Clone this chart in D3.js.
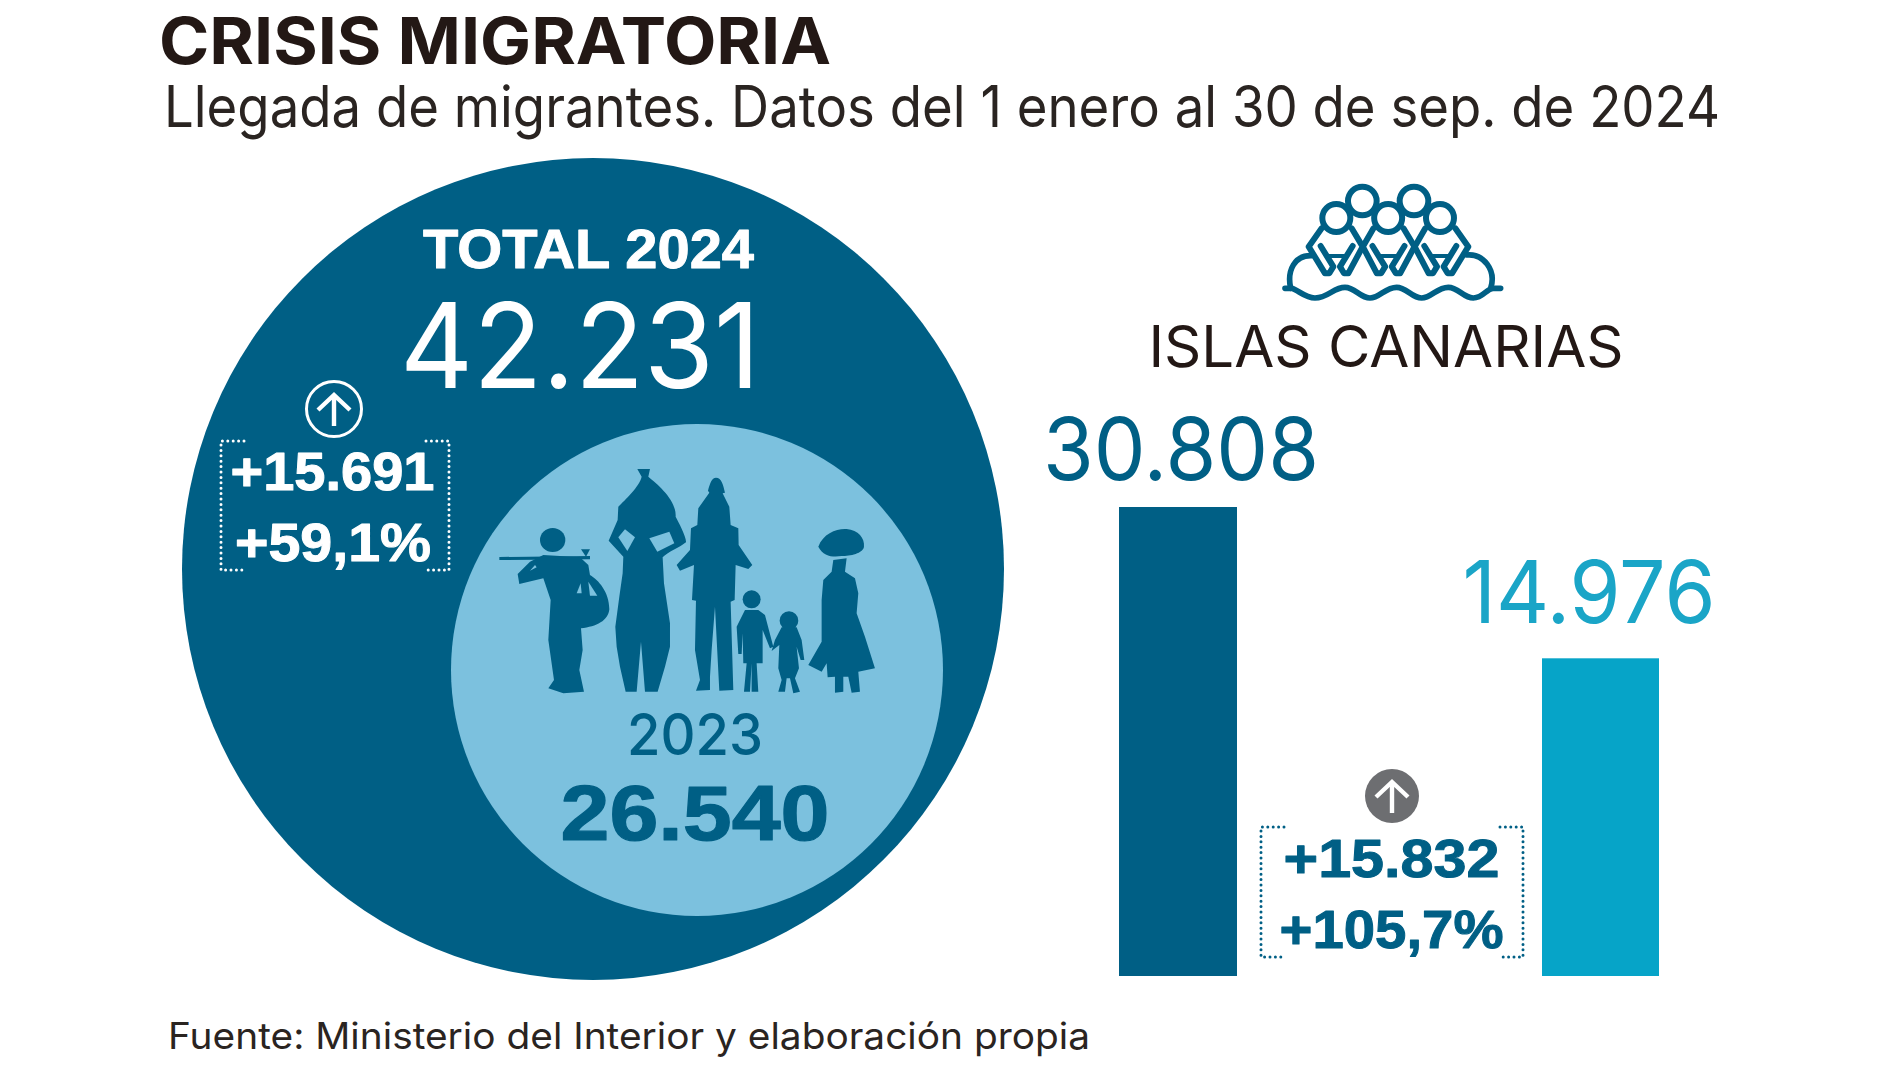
<!DOCTYPE html>
<html lang="es"><head><meta charset="utf-8">
<script src="https://cdnjs.cloudflare.com/ajax/libs/d3/7.8.5/d3.min.js"></script>
<style>html,body{margin:0;padding:0;background:#fff}svg{display:block}text{font-family:Inter,"Liberation Sans",sans-serif}</style>
</head><body><svg id="c" width="1900" height="1069" viewBox="0 0 1900 1069"></svg>
<script>
const titleText = "CRISIS MIGRATORIA";
const subtitleText = "Llegada de migrantes. Datos del 1 enero al 30 de sep. de 2024";
const sourceText = "Fuente: Ministerio del Interior y elaboración propia";
const circleYears = ["TOTAL 2024", "2023"];
const circleValues = [42231, 26540];
const circleDiff = 15691;
const circlePct = 59.1;
const barRegion = "ISLAS CANARIAS";
const barValues = [30808, 14976];
const barDiff = 15832;
const barPct = 105.7;

const DARK="#005f85", LIGHT="#7cc1de", CYAN="#06a4c8", CYANT="#1aa5c7", GREY="#6d6e71", INK="#231815";
const HELV='"Liberation Sans"';
const es=d3.formatLocale({decimal:",",thousands:".",grouping:[3],currency:["","€"]});
const fInt=es.format(",d"), fPlus=es.format("+,d"), fPct=v=>es.format("+.1f")(v)+"%";
const svg=d3.select("#c");

function txt(s,x,y,size,w,fill,anchor,len,family,heavy){
  const t=svg.append("text").attr("x",x).attr("y",y).attr("font-size",size).attr("font-weight",w)
    .attr("fill",fill).attr("text-anchor",anchor||"start").text(s);
  if(family)t.style("font-family",family);
  if(len)t.attr("textLength",len).attr("lengthAdjust","spacingAndGlyphs");
  if(heavy)t.attr("stroke",fill).attr("stroke-width",heavy).attr("stroke-linejoin","round");
  return t;
}
// circles
const rScale=d3.scalePow().exponent(1.105).domain([0,circleValues[0]]).range([0,411]);
svg.append("circle").attr("cx",593).attr("cy",569).attr("r",rScale(circleValues[0])).attr("fill",DARK);
svg.append("circle").attr("cx",697).attr("cy",670).attr("r",rScale(circleValues[1])).attr("fill",LIGHT);

// bars
const hScale=d3.scalePow().exponent(0.54).domain([0,barValues[0]]).range([0,469]);
const barX=[1119,1542], barW=[118,117], barFill=[DARK,CYAN];
svg.selectAll("rect.b").data(barValues).join("rect").attr("class","b")
  .attr("x",(d,i)=>barX[i]).attr("width",(d,i)=>barW[i])
  .attr("y",d=>976-hScale(d)).attr("height",d=>hScale(d)).attr("fill",(d,i)=>barFill[i]);

// titles
txt(titleText,159,64,64,700,INK,"start",672,"Inter");
txt(subtitleText,164,127,57,400,"#2a2421","start",1556,"Inter");
txt(sourceText,168,1049,37,400,"#2a2421","start",922,"Inter");

// circle labels
txt(circleYears[0],588.5,268,56,700,"#fff","middle",331,HELV,1);
txt(fInt(circleValues[0]),580,388,118,400,"#fff","middle",360,"Inter");
txt(circleYears[1],695,755,58,500,DARK,"middle",136,"Inter");
txt(fInt(circleValues[1]),695,840,78,700,DARK,"middle",269,HELV,1.2);
txt(fPlus(circleDiff),332.5,490,54,700,"#fff","middle",204,HELV,1);
txt(fPct(circlePct),333,561,54,700,"#fff","middle",196,HELV,1);

// bar labels
txt(barRegion,1386,367,58,400,INK,"middle",475,"Inter");
txt(fInt(barValues[0]),1181,480,86,400,DARK,"middle",276,"Inter");
txt(fInt(barValues[1]),1589,623,86,400,CYANT,"middle",253,"Inter");
txt(fPlus(barDiff),1391.5,877,54,700,DARK,"middle",216,HELV,1);
txt(fPct(barPct),1391.5,948,54,700,DARK,"middle",224,HELV,1);

// dotted brackets
function bracket(x0,y0,x1,y1,stroke){
  const s=23;
  [`M${x0+s},${y0}H${x0}V${y1}H${x0+s}`,`M${x1-s},${y0}H${x1}V${y1}H${x1-s}`].forEach(d=>
    svg.append("path").attr("d",d).attr("fill","none").attr("stroke",stroke).attr("stroke-width",3)
      .attr("stroke-linecap","round").attr("stroke-dasharray","0 5.4"));
}
bracket(221,441,449,570,"#fff");
bracket(1261,827,1523,957,DARK);

// arrow badges
function arrow(cx,cy,r,fill,stroke){
  svg.append("circle").attr("cx",cx).attr("cy",cy).attr("r",r).attr("fill",fill).attr("stroke",stroke).attr("stroke-width",fill==="none"?3:0);
  svg.append("path").attr("d",`M${cx},${cy+17}V${cy-14}M${cx-16},${cy+1}L${cx},${cy-14}L${cx+16},${cy+1}`)
    .attr("fill","none").attr("stroke","#fff").attr("stroke-width",4.4);
}
arrow(334,409,27.5,"none","#fff");
arrow(1392,796,27,GREY,"none");

// migrants silhouette (decorative, drawn in crop-space units)
const fig=svg.append("g").attr("transform","translate(480,450) scale(0.3333)").attr("fill",DARK);
fig.append("ellipse").attr("cx",218).attr("cy",270).attr("rx",38).attr("ry",36);
fig.append("path").attr("d","M58,321L330,318L330,328L58,330Z");
fig.append("path").attr("d","M303,298L330,298L318,320Z");
const figPaths=[
"M113,372L150,335L190,315L240,318L300,322L325,345L330,375C355,390 388,425 388,478C385,512 350,530 303,535L308,600L298,660L312,725L250,730L205,715L222,690L205,570L212,450L190,385L118,402Z",
"M472,57L510,57L505,80C535,105 590,150 587,200C595,215 620,262 618,277C600,292 565,305 548,322L552,400L570,520L570,590L555,650L533,725L495,725L483,575L470,725L437,725L420,650L410,590L406,530L418,440L428,370L430,320L386,272L413,210L415,170C435,150 478,110 485,80Z",
"M708,83C725,83 730,105 735,128L728,130L748,170L752,225L775,235L776,285L817,345L805,357L767,345L764,450L752,455L760,720L718,722L705,470L695,600L690,680L690,720L648,722L660,690L645,600L648,452L636,450L642,345L600,362L590,345L630,300L633,235L652,225L655,175L688,128L684,122C690,100 695,83 708,83Z",
"M795,480L835,480L855,495L880,590L870,595L848,540L848,640L830,640L835,725L815,725L815,640L810,725L792,725L800,640L790,640L788,550L785,612L775,612L770,530Z",
"M905,532L950,532L965,570L973,630L962,630L950,590L957,655L945,685L960,725L940,730L930,685L920,685L915,725L895,725L905,690L895,655L898,585L875,603L885,570Z",
"M1060,330L1100,325L1095,365L1125,385L1135,430L1130,490L1155,560L1185,655L1135,665L1140,725L1115,728L1105,680L1090,680L1090,725L1065,728L1065,680L1043,682L1040,640L1025,665L985,645L1025,575L1025,450L1030,390L1055,365Z",
"M1015,290C1030,250 1070,235 1100,237C1135,240 1155,265 1152,290C1150,310 1110,318 1085,318C1060,322 1030,320 1015,290Z"];
figPaths.forEach(d=>fig.append("path").attr("d",d));
fig.append("circle").attr("cx",815).attr("cy",448).attr("r",27);
fig.append("ellipse").attr("cx",927).attr("cy",512).attr("rx",28).attr("ry",28);
["M415,262L435,238L465,262L442,303Z","M508,265L568,245L583,280L532,305Z","M290,430L305,430L302,400Z","M325,395L352,437L330,437Z","M150,362L165,345L170,352Z"]
  .forEach(d=>fig.append("path").attr("d",d).attr("fill",LIGHT));

// Canarias logo (decorative, crop-space units)
const logo=svg.append("g").attr("transform","translate(1270,170) scale(0.3333)")
  .attr("fill","none").attr("stroke",DARK).attr("stroke-width",18).attr("stroke-linecap","round").attr("stroke-linejoin","round");
[[0,116,278],[155.5,123,278],[311,123,284]].forEach(([dx,la,ra])=>{
  const g=logo.append("g").attr("transform",`translate(${dx},0)`);
  g.append("path").attr("d",`M155,175L${la},230L165,310L178,310L190,290L152,228`);
  g.append("path").attr("d",`M245,175L${ra},230L235,310L222,310L210,290L248,228`);
  g.append("path").attr("d","M172,258H228").attr("stroke-width",12);
});
[277,432].forEach(cx=>logo.append("circle").attr("cx",cx).attr("cy",93).attr("r",43).attr("fill","#fff"));
[199,354.5,510].forEach(cx=>logo.append("circle").attr("cx",cx).attr("cy",144).attr("r",42).attr("fill","#fff"));
logo.append("path").attr("d","M62,355C50,300 75,255 125,257M662,355C680,300 640,250 590,255").attr("stroke-width",17);
logo.append("path").attr("stroke-width",17).attr("d","M45,355H65C85,360 105,384 135,384C175,384 190,352 225,352C255,352 270,384 300,384C330,384 345,352 380,352C410,352 425,384 455,384C485,384 500,352 535,352C565,352 580,384 610,384C640,384 650,355 670,355H692");
</script></body></html>
